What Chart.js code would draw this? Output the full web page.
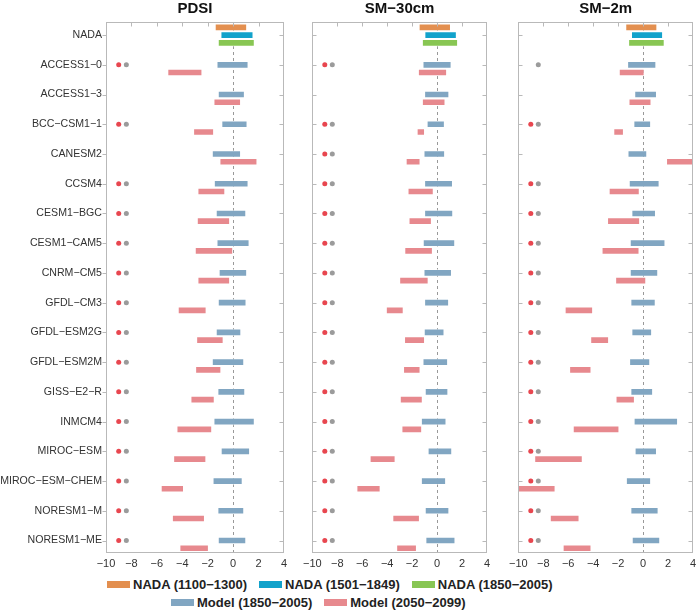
<!DOCTYPE html>
<html>
<head>
<meta charset="utf-8">
<script src="https://cdn.jsdelivr.net/npm/chart.js@4.4.1/dist/chart.umd.min.js"></script>
<style>
  body { margin: 0; background: #fff; overflow: hidden; font-family: "Liberation Sans", Arial, sans-serif; }
  #wrap { position: relative; width: 700px; height: 613px; }
  canvas { position: absolute; top: 0; }
  .legend { position: absolute; display: flex; align-items: center; font-weight: bold; font-size: 13px; color: #222; white-space: nowrap; }
  .legend span.sw { display: inline-block; width: 23px; height: 7px; margin-right: 3px; }
  .legend span.item { display: flex; align-items: center; margin-right: 12px; }
</style>
</head>
<body>
<div id="wrap">
  <canvas id="c1" width="291" height="575" style="left:0px"></canvas>
  <canvas id="c2" width="195" height="575" style="left:299px"></canvas>
  <canvas id="c3" width="195" height="575" style="left:505px"></canvas>
  <div class="legend" id="leg1" style="left:107px; top:577px;"></div>
  <div class="legend" id="leg2" style="left:171px; top:595px;"></div>
</div>
<script>
const rows = ["NADA", "ACCESS1−0", "ACCESS1−3", "BCC−CSM1−1", "CANESM2", "CCSM4", "CESM1−BGC",
  "CESM1−CAM5", "CNRM−CM5", "GFDL−CM3", "GFDL−ESM2G", "GFDL−ESM2M", "GISS−E2−R", "INMCM4",
  "MIROC−ESM", "MIROC−ESM−CHEM", "NORESM1−M", "NORESM1−ME"];

const nadaLabels = ["NADA (1100−1300)", "NADA (1501−1849)", "NADA (1850−2005)"];
const modelLabels = ["Model (1850−2005)", "Model (2050−2099)"];
const xTicks = [-10, -8, -6, -4, -2, 0, 2, 4];

// PDSI
const pdsiNada = [[-1.42, 1.08], [-0.97, 1.58], [-1.18, 1.68]];
const pdsiHist = [[-1.28, 1.19], [-1.18, 0.90], [-0.90, 1.11], [-1.65, 0.60], [-1.49, 1.19], [-1.34, 1.01],
  [-1.28, 1.27], [-1.11, 1.08], [-1.18, 1.03], [-1.34, 0.62], [-1.65, 0.85], [-1.21, 0.93], [-1.52, 1.68],
  [-0.95, 1.31], [-1.59, 0.73], [-1.21, 0.85], [-1.18, 1.01]];
const pdsiFut = [[-5.15, -2.44], [-1.52, 0.60], [-3.12, -1.52], [-1.05, 1.89], [-2.78, -0.64], [-2.83, -0.26],
  [-2.99, -0.02], [-2.78, -0.26], [-4.33, -2.11], [-2.88, -0.77], [-2.96, -0.95], [-3.33, -1.47], [-4.43, -1.67],
  [-4.69, -2.13], [-5.67, -3.89], [-4.79, -2.24], [-4.20, -1.93]];
const pdsiRed = [1, 0, 1, 0, 1, 1, 1, 1, 1, 1, 1, 1, 1, 1, 1, 1, 1];
const pdsiGray = [1, 0, 1, 0, 1, 1, 1, 1, 1, 1, 1, 1, 1, 1, 1, 1, 1];

// SM-30cm
const sm30Nada = [[-1.45, 1.09], [-0.99, 1.56], [-1.19, 1.66]];
const sm30Hist = [[-1.14, 1.14], [-1.01, 0.96], [-0.81, 0.60], [-1.06, 0.62], [-1.01, 1.25], [-1.01, 1.27],
  [-1.12, 1.43], [-1.06, 1.17], [-1.01, 0.94], [-1.04, 0.57], [-1.14, 0.86], [-0.96, 0.88], [-1.27, 0.73],
  [-0.73, 1.19], [-1.27, 0.70], [-0.96, 0.96], [-0.91, 1.45]];
const sm30Fut = [[-1.51, 0.78], [-1.19, 0.65], [-1.61, -0.99], [-2.49, -1.35], [-2.34, -0.29], [-2.26, -0.44],
  [-2.60, -0.36], [-3.01, -0.70], [-4.08, -2.70], [-2.62, -0.99], [-2.70, -1.35], [-2.96, -1.17], [-2.83, -1.22],
  [-5.38, -3.35], [-6.44, -4.55], [-3.56, -1.40], [-3.25, -1.64]];
const sm30Red = [1, 0, 1, 1, 1, 1, 1, 1, 1, 1, 1, 1, 1, 1, 1, 1, 1];
const sm30Gray = [1, 0, 1, 1, 1, 1, 1, 1, 1, 1, 1, 1, 1, 1, 1, 1, 1];

// SM-2m
const sm2Nada = [[-1.40, 1.12], [-0.94, 1.58], [-1.17, 1.71]];
const sm2Hist = [[-1.25, 1.04], [-0.68, 1.09], [-0.75, 0.62], [-1.22, 0.31], [-1.12, 1.30], [-0.91, 1.01],
  [-1.04, 1.77], [-1.04, 1.19], [-0.99, 0.99], [-0.91, 0.70], [-1.09, 0.55], [-0.99, 0.78], [-0.73, 2.78],
  [-0.65, 1.09], [-1.35, 0.62], [-0.99, 1.22], [-0.88, 1.35]];
const sm2Fut = [[-1.92, 0.10], [-1.14, 0.65], [-2.36, -1.56], [1.87, 4.30], [-2.73, -0.29], [-2.86, -0.26],
  [-3.30, -0.31], [-2.21, 0.23], [-6.26, -4.03], [-4.21, -2.75], [-5.90, -4.16], [-2.18, -0.68], [-5.61, -1.92],
  [-8.70, -4.86], [-10.40, -7.04], [-7.45, -5.12], [-6.42, -4.16]];
const sm2Red = [0, 0, 1, 0, 1, 1, 1, 1, 1, 1, 1, 1, 1, 1, 1, 1, 1];
const sm2Gray = [1, 0, 1, 0, 1, 1, 1, 1, 1, 1, 1, 1, 1, 1, 1, 1, 1];

const nadaColors = ["#e38f4f", "#12a2cb", "#88c653"];
const histColor = "#81a6c2";
const futColor = "#e7898e";
const redDot = "#e8464f";
const grayDot = "#9b9b9b";
const frameColor = "#b9b9b9";

const OFF = 0.26;      // vertical offset between paired bars
const RED_X = -9, GRAY_X = -8.4;

// frame, inner ticks and dashed zero line
const framePlugin = {
  id: "frame",
  beforeDatasetsDraw(chart) {
    const { ctx, chartArea: a, scales: { x } } = chart;
    const x0 = Math.round(x.getPixelForValue(0)) + 0.5;
    ctx.save();
    ctx.strokeStyle = "#999";
    ctx.lineWidth = 1;
    ctx.setLineDash([3, 3]);
    ctx.beginPath();
    ctx.moveTo(x0, a.top);
    ctx.lineTo(x0, a.bottom);
    ctx.stroke();
    ctx.restore();
  },
  afterDraw(chart, args, opts) {
    const { ctx, chartArea: a, scales: { x, y } } = chart;
    const l = Math.round(a.left) + 0.5, r = Math.round(a.right) - 0.5;
    const t = Math.round(a.top) + 0.5, b = Math.round(a.bottom) - 0.5;
    ctx.save();
    ctx.strokeStyle = frameColor;
    ctx.lineWidth = 1;
    ctx.strokeRect(l, t, r - l, b - t);
    ctx.beginPath();
    rows.forEach((_, i) => {
      const py = Math.round(y.getPixelForValue(i)) + 0.5;
      if (opts.outside) { ctx.moveTo(l - 4, py); ctx.lineTo(l, py); }
      else { ctx.moveTo(l, py); ctx.lineTo(l + 4, py); }
      ctx.moveTo(r, py); ctx.lineTo(r - 4, py);
    });
    xTicks.slice(1, -1).forEach(v => {
      const px = Math.round(x.getPixelForValue(v)) + 0.5;
      ctx.moveTo(px, t); ctx.lineTo(px, t + 4);
    });
    ctx.stroke();
    ctx.restore();
  }
};

function barSet(label, color, data, yPos) {
  return {
    type: "bar",
    label,
    indexAxis: "y",
    grouped: false,
    barThickness: 7,
    backgroundColor: color,
    borderColor: "rgba(255,255,255,0.55)",
    borderWidth: 1,
    borderSkipped: false,
    data: data.map((d, i) => ({ y: yPos(i), x: d }))
  };
}

function dotSet(flags, xPos, color) {
  const pts = [];
  flags.forEach((f, i) => { if (f) pts.push({ x: xPos, y: i + 1 }); });
  return { type: "scatter", data: pts, backgroundColor: color, borderWidth: 0, pointRadius: 2.5 };
}

function makeChart(id, title, nada, hist, fut, red, gray, first, padRight) {
  const datasets = [
    ...nada.map((d, k) => barSet(nadaLabels[k], nadaColors[k], [d], () => (k - 1) * OFF)),
    barSet(modelLabels[0], histColor, hist, i => i + 1),
    barSet(modelLabels[1], futColor, fut, i => i + 1 + OFF),
    dotSet(red, RED_X, redDot),
    dotSet(gray, GRAY_X, grayDot)
  ];

  return new Chart(document.getElementById(id), {
    type: "bar",
    data: { datasets },
    options: {
      responsive: false,
      animation: false,
      layout: { padding: { left: 0, right: padRight, top: 0, bottom: 0 } },
      plugins: {
        legend: { display: false },
        tooltip: { enabled: false },
        title: {
          display: true,
          text: title,
          fullSize: false,
          color: "#111",
          font: { family: "Liberation Sans", size: 15, weight: "bold", lineHeight: 1.2 },
          padding: { top: 0, bottom: 4 }
        },
        frame: { outside: first }
      },
      scales: {
        x: {
          type: "linear",
          min: -10,
          max: 4,
          offset: false,
          grid: { display: false, drawTicks: false },
          border: { display: false },
          afterBuildTicks: s => { s.ticks = xTicks.map(v => ({ value: v })); },
          afterFit: s => { s.height = 22; },
          ticks: {
            padding: 4,
            color: "#333",
            font: { family: "Liberation Sans", size: 11 },
            maxRotation: 0,
            autoSkip: false,
            callback: v => String(v).replace("-", "−")
          }
        },
        y: {
          type: "linear",
          reverse: true,
          offset: false,
          min: -0.44,
          max: 17.42,
          grid: { display: false, drawTicks: false },
          border: { display: false },
          afterBuildTicks: s => { s.ticks = rows.map((_, i) => ({ value: i })); },
          afterFit: s => { s.width = first ? 106 : 12; },
          ticks: {
            display: first,
            padding: 4,
            color: "#333",
            font: { family: "Liberation Sans", size: 10.6 },
            autoSkip: false,
            callback: v => rows[v]
          }
        }
      }
    },
    plugins: [framePlugin]
  });
}

makeChart("c1", "PDSI", pdsiNada, pdsiHist, pdsiFut, pdsiRed, pdsiGray, true, 4);
makeChart("c2", "SM−30cm", sm30Nada, sm30Hist, sm30Fut, sm30Red, sm30Gray, false, 4);
makeChart("c3", "SM−2m", sm2Nada, sm2Hist, sm2Fut, sm2Red, sm2Gray, false, 3);

// legend rows
function fillLegend(el, labels, colors) {
  labels.forEach((txt, k) => {
    const item = document.createElement("span");
    item.className = "item";
    const sw = document.createElement("span");
    sw.className = "sw";
    sw.style.background = colors[k];
    item.appendChild(sw);
    item.appendChild(document.createTextNode(txt));
    el.appendChild(item);
  });
}
fillLegend(document.getElementById("leg1"), nadaLabels, nadaColors);
fillLegend(document.getElementById("leg2"), modelLabels, [histColor, futColor]);
</script>
</body>
</html>
